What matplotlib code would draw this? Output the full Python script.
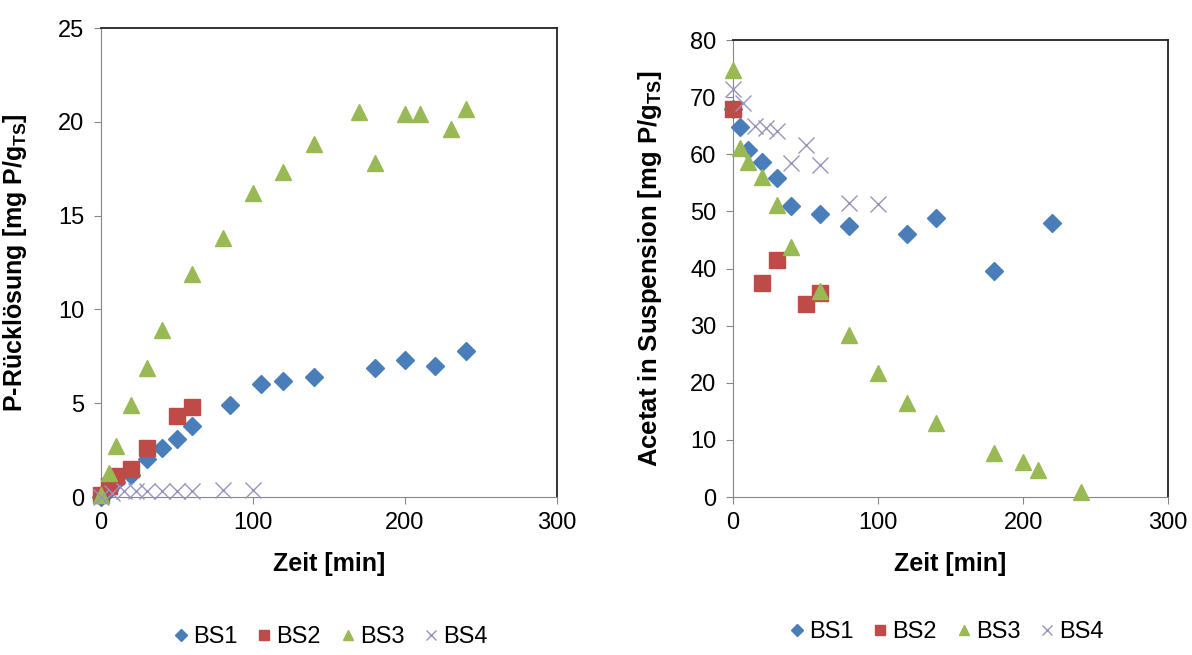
import matplotlib.pyplot as plt

# P-Rücklösung (links)
bs1_t_p = [0, 5, 10, 20, 30, 40, 50, 60, 85, 105, 120, 140, 180, 200, 220, 240]
bs1_p = [0.0, 0.4, 0.8, 1.2, 2.0, 2.6, 3.1, 3.8, 4.9, 6.0, 6.2, 6.4, 6.9, 7.3, 7.0, 7.8]
bs2_t_p = [0, 5, 10, 20, 30, 50, 60]
bs2_p = [0.1, 0.6, 1.1, 1.5, 2.6, 4.3, 4.8]
bs3_t_p = [0, 5, 10, 20, 30, 40, 60, 80, 100, 120, 140, 170, 180, 200, 210, 230, 240]
bs3_p = [0.1, 1.3, 2.7, 4.9, 6.9, 8.9, 11.9, 13.8, 16.2, 17.3, 18.8, 20.5, 17.8, 20.4, 20.4, 19.6, 20.7]
bs4_t_p = [0, 7, 15, 23, 30, 40, 50, 60, 80, 100]
bs4_p = [0.0, 0.2, 0.3, 0.3, 0.3, 0.3, 0.3, 0.3, 0.4, 0.4]

# Acetat in Suspension (rechts)
bs1_t_a = [0, 5, 10, 20, 30, 40, 60, 80, 120, 140, 180, 220]
bs1_a = [68.0, 64.8, 60.8, 58.6, 55.8, 50.9, 49.5, 47.5, 46.0, 48.8, 39.5, 48.0]
bs2_t_a = [0, 20, 30, 50, 60]
bs2_a = [68.0, 37.5, 41.5, 33.8, 35.7]
bs3_t_a = [0, 5, 10, 20, 30, 40, 60, 80, 100, 120, 140, 180, 200, 210, 240]
bs3_a = [74.8, 61.1, 58.6, 56.1, 51.1, 43.7, 36.0, 28.4, 21.7, 16.4, 12.9, 7.7, 6.2, 4.7, 0.9]
bs4_t_a = [0, 7, 15, 23, 30, 40, 50, 60, 80, 100]
bs4_a = [71.5, 69.0, 65.0, 64.6, 64.0, 58.5, 61.6, 58.1, 51.4, 51.3]

labels = ['BS1', 'BS2', 'BS3', 'BS4']
colors = ['#4a7ebb', '#be4b48', '#98b954', '#9a93bd']

plt.rcParams['font.family'] = ['Liberation Sans', 'DejaVu Sans']

fig = plt.figure(figsize=(11.92, 6.55), dpi=100)
ax1 = fig.add_axes([0.0847, 0.2412, 0.3826, 0.716])
ax2 = fig.add_axes([0.615, 0.2412, 0.365, 0.6977])


def draw(ax, data, leg_x, leg_y):
    (t1, y1), (t2, y2), (t3, y3), (t4, y4) = data
    ax.plot(t1, y1, 'D', ms=9, color=colors[0], label=labels[0], clip_on=False, zorder=3)
    ax.plot(t2, y2, 's', ms=11, color=colors[1], label=labels[1], clip_on=False, zorder=3)
    ax.plot(t3, y3, '^', ms=12, color=colors[2], label=labels[2], clip_on=False, zorder=3)
    ax.plot(t4, y4, 'x', ms=12, mew=1.0, color=colors[3], label=labels[3], clip_on=False, zorder=3)
    ax.set_xlim(0, 300)
    ax.set_xticks([0, 100, 200, 300])
    for s in ['left', 'bottom']:
        ax.spines[s].set_color('#868686')
    for s in ['top', 'right']:
        ax.spines[s].set_color('#222222')
        ax.spines[s].set_linewidth(1.3)
    ax.tick_params(direction='out', length=5, color='#868686', labelsize=17)
    ax.tick_params(axis='y', pad=7)
    ax.tick_params(axis='x', pad=6)
    ax.set_xlabel('Zeit [min]', fontsize=18, fontweight='bold')
    ax.legend(loc='center', bbox_to_anchor=(leg_x, leg_y), ncol=4, frameon=False,
              fontsize=17, handletextpad=0.05, columnspacing=0.7, markerscale=0.65,
              handlelength=0.9)


draw(ax1, [(bs1_t_p, bs1_p), (bs2_t_p, bs2_p), (bs3_t_p, bs3_p), (bs4_t_p, bs4_p)], 0.50, -0.298)
ax1.set_ylim(0, 25)
ax1.set_yticks([0, 5, 10, 15, 20, 25])
ax1.set_ylabel('P-Rücklösung [mg P/g$_{\\mathregular{TS}}$]', fontsize=18, fontweight='bold')
ax1.xaxis.set_label_coords(0.5, -0.118)
ax1.yaxis.set_label_coords(-0.158, 0.5)

draw(ax2, [(bs1_t_a, bs1_a), (bs2_t_a, bs2_a), (bs3_t_a, bs3_a), (bs4_t_a, bs4_a)], 0.487, -0.295)
ax2.set_ylim(0, 80)
ax2.set_yticks(range(0, 81, 10))
ax2.set_ylabel('Acetat in Suspension [mg P/g$_{\\mathregular{TS}}$]', fontsize=18.5, fontweight='bold')
ax2.xaxis.set_label_coords(0.5, -0.121)
ax2.yaxis.set_label_coords(-0.158, 0.5)

fig.savefig('out.png', dpi=100)
